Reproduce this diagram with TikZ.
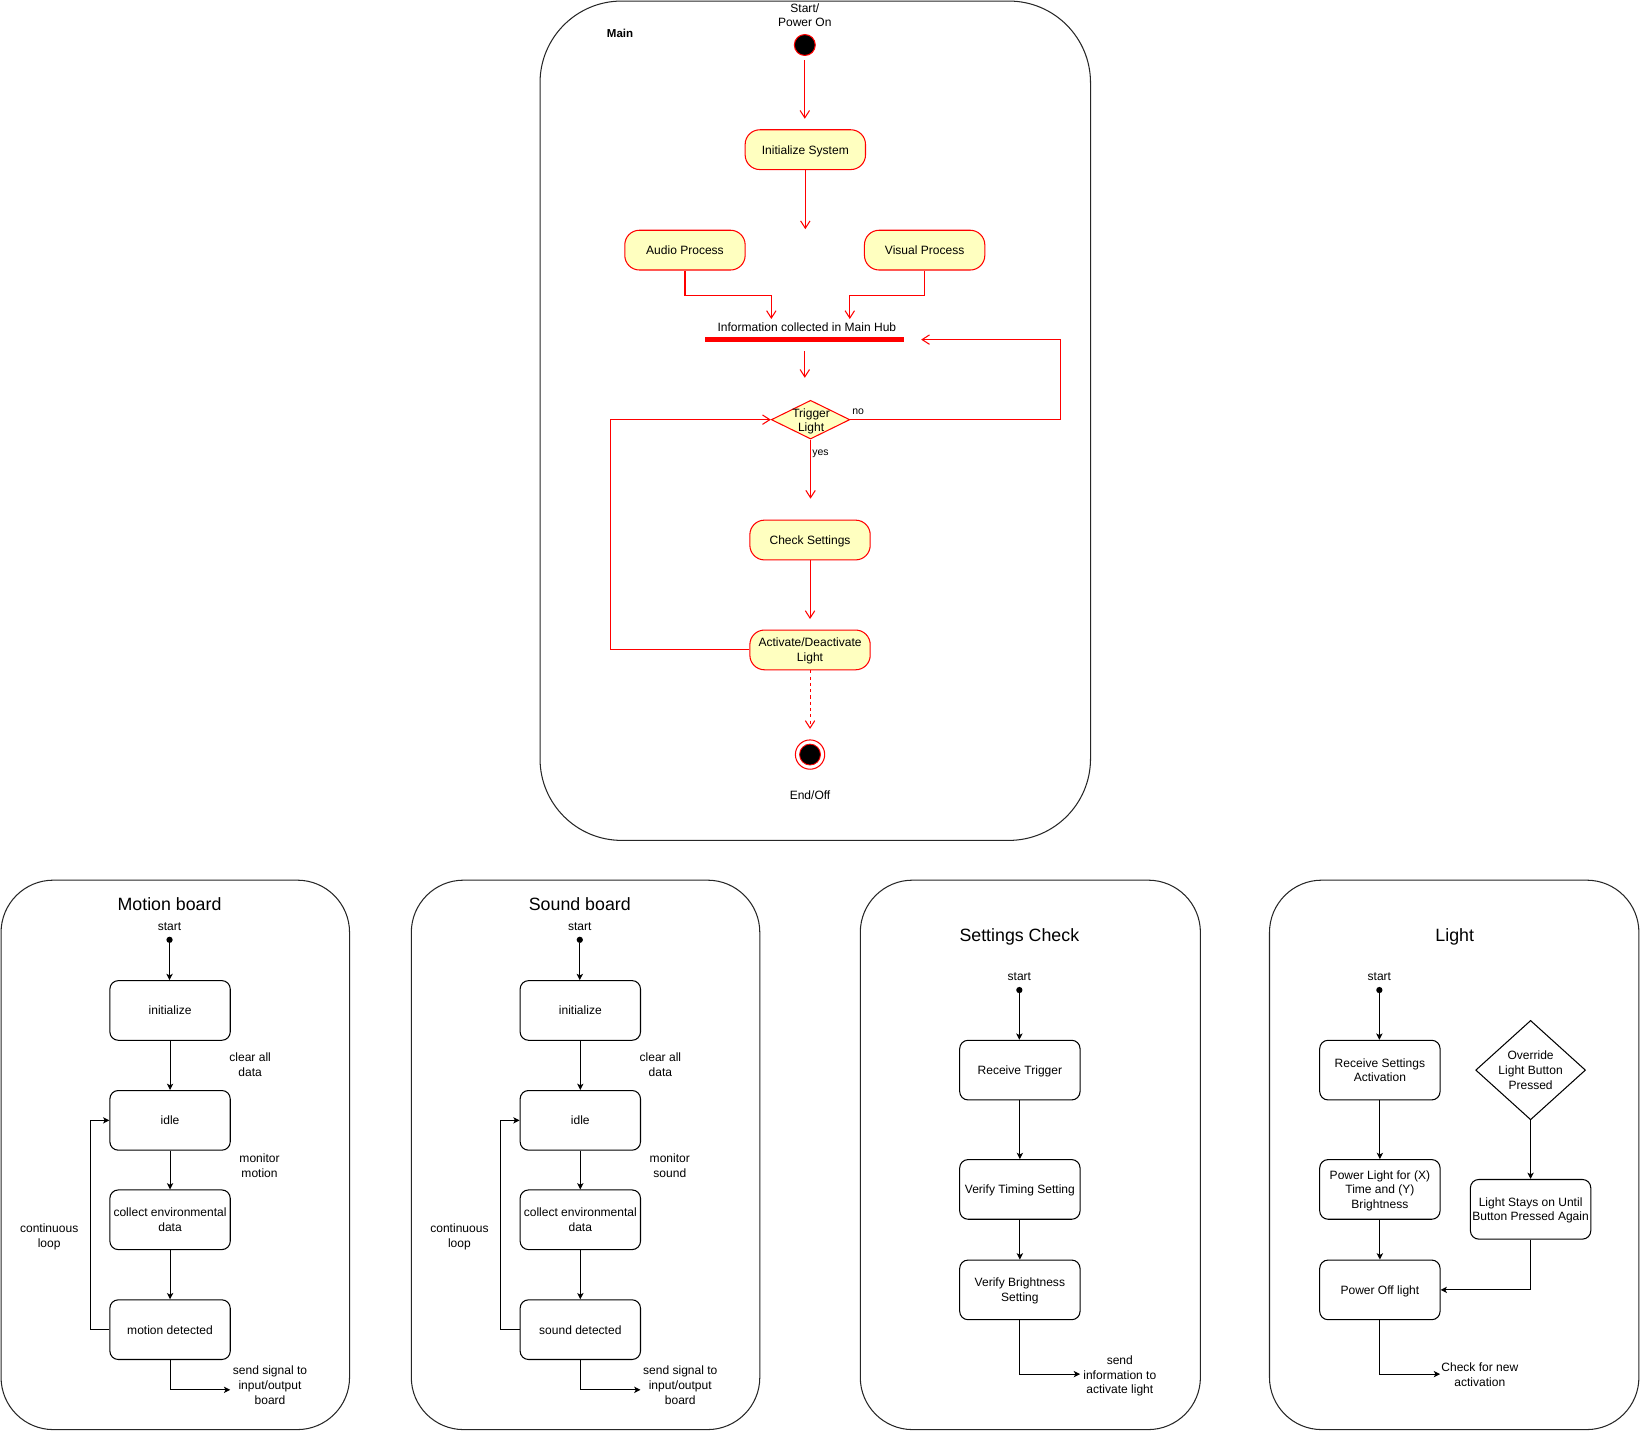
\documentclass[tikz,border=0pt]{standalone}
\usepackage{fontspec}
\setmainfont{Liberation Sans}
\usetikzlibrary{arrows.meta,shapes.geometric,calc}

\definecolor{actred}{HTML}{FF0000}
\definecolor{actfill}{HTML}{FFFFC0}

\newcommand{\fnorm}{\fontsize{11.5}{14}\selectfont}
\newcommand{\fsmall}{\fontsize{10}{12}\selectfont}
\newcommand{\ftitle}{\fontsize{17}{20}\selectfont}

\tikzset{
  base/.style={font=\fnorm, align=center, inner sep=0pt, text=black, text depth=0pt},
  actbox/.style={base, draw=actred, fill=actfill, line width=1pt,
    rounded corners=14pt, minimum width=115pt, minimum height=38pt},
  stbox/.style={base, draw=black, line width=1pt, rounded corners=8pt,
    minimum width=115pt, minimum height=57pt},
  boardframe/.style={draw=black!85, line width=1pt, inner sep=0pt},
  dot/.style={circle, fill=black, inner sep=0pt, minimum size=6pt},
  rarr/.style={draw=actred, line width=1pt, -{Straight Barb[length=7pt,width=9pt]}},
  barr/.style={draw=black, line width=1pt, -{Stealth[length=6pt,width=6pt,inset=1.5pt]}},
}

% a sensor board: prefix, x offset, title, sensed quantity
\newcommand{\sensorboard}[4]{%
\begin{scope}[xshift=#2pt]
  \node[boardframe, rounded corners=50pt, minimum width=333pt, minimum height=525pt] (#1frame) at (167.5,1103.5) {};
  \node[base, font=\ftitle] (#1title) at (162,864) {#3};
  \node[base] (#1startlbl) at (162,885) {start};
  \node[dot] (#1start) at (162,898) {};
  \node[stbox] (#1init) at (162.5,965.5) {initialize};
  \node[stbox] (#1idle) at (162.5,1070.5) {idle};
  \node[stbox] (#1collect) at (162.5,1165.5) {collect environmental\\data};
  \node[stbox] (#1detect) at (162.5,1270.5) {#4 detected};
  \coordinate (#1out) at (220,1328);
  \draw[barr] (#1start) -- (#1start |- #1init.north);
  \draw[barr] (#1init) -- (#1idle);
  \draw[barr] (#1idle) -- (#1collect);
  \draw[barr] (#1collect) -- (#1detect);
  \draw[barr] (#1detect.west) -- ++(-18,0) |- (#1idle.west);
  \draw[barr] (#1detect.south) |- (#1out);
  \node[base] (#1clear) at (239,1017.5) {clear all\\data};
  \node[base] (#1monitor) at (248,1113.5) {monitor\\#4};
  \node[base] (#1loop) at (47,1180.5) {continuous\\loop};
  \node[base] (#1send) at (258,1323.5) {send signal to\\input/output\\board};
\end{scope}}

\begin{document}
\begin{tikzpicture}[x=1pt,y=-1pt]
\useasboundingbox (0,0) rectangle (1568,1367);

% ---------------- main activity ----------------
\node[boardframe, rounded corners=78pt, minimum width=526pt, minimum height=802pt] (mainframe) at (779,402) {};
\node[base, font={\fontsize{11}{13}\selectfont\bfseries}] (mainlbl) at (592.5,31.5) {Main};

\node[base] (startlbl) at (769,14.5) {Start/\\Power On};
\node[circle, draw=actred, fill=black, line width=1pt, minimum size=20pt, inner sep=0pt] (start) at (769,43) {};

\node[actbox] (init) at (769.5,143) {Initialize System};
\coordinate (fork) at (769.5,219);
\node[actbox] (audio) at (654.5,239) {Audio Process};
\node[actbox] (visual) at (883.5,239) {Visual Process};

\node[base] (hublbl) at (771,313) {Information collected in Main Hub};
\node[fill=actred, minimum width=190pt, minimum height=5pt, inner sep=0pt] (bar) at (769,324.5) {};

\node[diamond, draw=actred, fill=actfill, line width=1pt, inner sep=0pt,
      minimum width=75pt, minimum height=37pt] (trig) at (774.5,401) {};
\node[base] (triglbl) at (775,401.5) {Trigger\\Light};
\node[base, font=\fsmall] (nolbl) at (820,393.5) {no};
\node[base, font=\fsmall] (yeslbl) at (784,433) {yes};

\node[actbox] (check) at (774,516) {Check Settings};
\node[actbox] (act) at (774,621) {Activate/Deactivate\\Light};

\node[circle, draw=actred, fill=white, line width=1pt, minimum size=28pt, inner sep=0pt] (endring) at (774,721) {};
\node[circle, draw=actred, fill=black, line width=0.8pt, minimum size=20pt, inner sep=0pt] (enddot) at (endring.center) {};
\node[base] (endlbl) at (774,760) {End/Off};

\draw[rarr, shorten <=4pt, shorten >=10pt] (start.south) -- (start.south |- init.north);
\draw[rarr] (init.south) -- (fork);
\draw[rarr, shorten >=17pt] (audio.south) -- ++(0,24) -| ([xshift=-32pt]bar.north);
\draw[rarr, shorten >=17pt] (visual.south) -- ++(0,24) -| ([xshift=43pt]bar.north);
\draw[rarr, shorten <=8pt, shorten >=21pt] (bar.south) -- (bar.south |- trig.north);
\draw[rarr, shorten >=16pt] (trig.east) -- ++(201,0) |- (bar.east);
\draw[rarr, shorten >=20pt] (trig.south) -- (trig.south |- check.north);
\draw[rarr, shorten >=10pt] (check.south) -- (act.north);
\draw[rarr] (act.west) -- ++(-133,0) |- (trig.west);
\draw[rarr, dashed, dash pattern=on 3pt off 3pt, shorten >=10pt] (act.south) -- (endring.north);

% ---------------- sensor boards ----------------
\sensorboard{m}{0}{Motion board}{motion}
\sensorboard{s}{392}{Sound board}{sound}

% ---------------- settings check ----------------
\node[boardframe, rounded corners=50pt, minimum width=325pt, minimum height=525pt] (setframe) at (984.5,1103.5) {};
\node[base, font=\ftitle] (settitle) at (974,893) {Settings Check};
\node[base] (setstartlbl) at (974,933.5) {start};
\node[dot] (setstart) at (974,946) {};
\node[stbox] (recv) at (974.5,1022.5) {Receive Trigger};
\node[stbox] (timing) at (974.5,1136.5) {Verify Timing Setting};
\node[stbox] (bright) at (974.5,1232.5) {Verify Brightness\\Setting};
\coordinate (setout) at (1032,1313);
\node[base] (setsend) at (1070,1313.5) {send\\information to\\activate light};
\draw[barr] (setstart) -- (setstart |- recv.north);
\draw[barr] (recv) -- (timing);
\draw[barr] (timing) -- (bright);
\draw[barr] (bright.south) |- (setout);

% ---------------- light ----------------
\node[boardframe, rounded corners=50pt, minimum width=353pt, minimum height=525pt] (lightframe) at (1389.5,1103.5) {};
\node[base, font=\ftitle] (lighttitle) at (1390,893) {Light};
\node[base] (lstartlbl) at (1318,933.5) {start};
\node[dot] (lstart) at (1318,946) {};
\node[stbox] (lrecv) at (1318.5,1022.5) {Receive Settings\\Activation};
\node[stbox] (lpower) at (1318.5,1136.5) {Power Light for (X)\\Time and (Y)\\Brightness};
\node[stbox] (loff) at (1318.5,1232.5) {Power Off light};
\node[diamond, draw=black, line width=1pt, inner sep=0pt, minimum width=105pt, minimum height=95pt] (override) at (1462.5,1022.5) {};
\node[base] (overridelbl) at (override.center) {Override\\Light Button\\Pressed};
\node[stbox] (stays) at (1462.5,1155.5) {Light Stays on Until\\Button Pressed Again};
\coordinate (lout) at (1376,1313);
\node[base] (lcheck) at (1414,1313.5) {Check for new\\activation};
\draw[barr] (lstart) -- (lstart |- lrecv.north);
\draw[barr] (lrecv) -- (lpower);
\draw[barr] (lpower) -- (loff);
\draw[barr] (override.south) -- (stays.north);
\draw[barr] (stays.south) |- (loff.east);
\draw[barr] (loff.south) |- (lout);

\end{tikzpicture}
\end{document}
